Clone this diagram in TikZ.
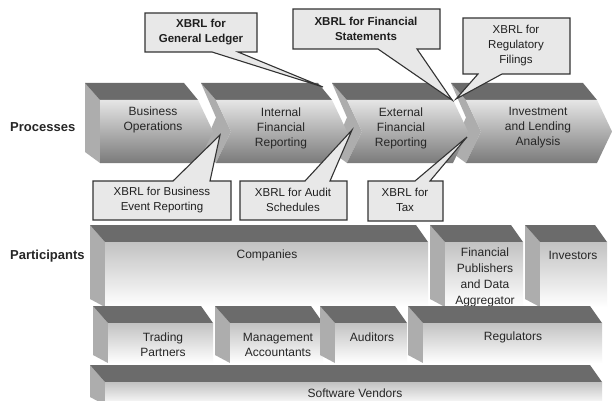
\documentclass[tikz,border=0pt]{standalone}
\usepackage{fontspec}
\setmainfont{Liberation Sans}
\tikzset{
  topface/.style={fill=black!58},
  sideface/.style={fill=black!32},
  procfront/.style={top color=black!10, bottom color=black!52},
  partfront/.style={top color=black!24, bottom color=white},
  callout/.style={fill=black!9, draw=black!80, line width=1.1pt, line join=miter},
  lbl/.style={font=\fontsize{12}{15}\selectfont, align=center, text=black!85, inner sep=0pt},
  clbl/.style={font=\fontsize{11.5}{15}\selectfont, align=center, text=black!88, inner sep=0pt},
  cblbl/.style={font=\fontsize{11.5}{15}\selectfont\bfseries, align=center, text=black!88, inner sep=0pt},
  headlbl/.style={font=\fontsize{13}{15}\selectfont\bfseries, anchor=west, text=black!85, inner sep=0pt}
}
\newcommand\procside[1]{\fill[sideface] ({#1-15},83) -- (#1,100) -- ({#1+15},131.5) -- (#1,163) -- ({#1-15},152) -- (#1,117.5) -- cycle;}
\newcommand\procsideplain[1]{\fill[sideface] ({#1-15},83) -- (#1,100) -- (#1,163) -- ({#1-15},152) -- cycle;}
\newcommand\proctop[2]{\fill[topface] (#1,100) -- (#2,100) -- ({#2-14},83) -- ({#1-15},83) -- cycle;}
\newcommand\procfrontN[2]{\shade[procfront] (#1,100) -- (#2,100) -- ({#2+15},131.5) -- (#2,163) -- (#1,163) -- ({#1+15},131.5) -- cycle;}
\newcommand\procfrontP[2]{\shade[procfront] (#1,100) -- (#2,100) -- ({#2+15},131.5) -- (#2,163) -- (#1,163) -- cycle;}
\newcommand\partblock[4]{%
  \fill[sideface] (#1,#2) -- (#1,#4) -- ({#1-15},{#4-8}) -- ({#1-15},{#2-17}) -- cycle;
  \fill[topface] (#1,#2) -- (#3,#2) -- ({#3-12},{#2-17}) -- ({#1-15},{#2-17}) -- cycle;
  \shade[partfront] (#1,#2) rectangle (#3,#4);}
\begin{document}
\begin{tikzpicture}[x=1pt,y=-1pt]
\useasboundingbox[fill=white] (0,0) rectangle (613,401);

% ---- Processes (drawn right to left so tips overlap next notch)
\procside{466}\proctop{466}{597}\procfrontN{466}{597}
\procside{347}\proctop{347}{453}\procfrontN{347}{453}
\procside{216}\proctop{216}{332}\procfrontN{216}{332}
\procsideplain{100}\proctop{100}{198}\procfrontP{100}{198}

\node[lbl] (bo) at (153,120) {Business\\Operations};
\node[lbl] (ifr) at (281,128) {Internal\\Financial\\Reporting};
\node[lbl] (efr) at (401,128) {External\\Financial\\Reporting};
\node[lbl] (ila) at (538,128) {Investment\\and Lending\\Analysis};
\node[headlbl] (proc) at (10,127) {Processes};

% ---- Callouts above
\draw[callout] (145,13) -- (257,13) -- (257,52) -- (238,52) -- (323,87) -- (212,52) -- (145,52) -- cycle;
\node[cblbl] (gl) at (201,32) {XBRL for\\General Ledger};
\draw[callout] (293,9) -- (440,9) -- (440,49) -- (417,49) -- (452,100) -- (378,49) -- (293,49) -- cycle;
\node[cblbl] (fs) at (366,29) {XBRL for Financial\\Statements};
\draw[callout] (463,18) -- (570,18) -- (570,74) -- (502,74) -- (456,99) -- (478,74) -- (463,74) -- cycle;
\node[clbl] (rf) at (516,46) {XBRL for\\Regulatory\\Filings};

% ---- Callouts below
\draw[callout] (93,220) -- (93,181) -- (173,181) -- (220,135) -- (210,181) -- (231,181) -- (231,220) -- cycle;
\node[clbl] (be) at (162,200) {XBRL for Business\\Event Reporting};
\draw[callout] (240,220) -- (240,181) -- (305,181) -- (352,130) -- (330,181) -- (347,181) -- (347,220) -- cycle;
\node[clbl] (as) at (293,200) {XBRL for Audit\\Schedules};
\draw[callout] (368,221) -- (368,181) -- (415,181) -- (467,137) -- (430,181) -- (443,181) -- (443,221) -- cycle;
\node[clbl] (tx) at (405,200) {XBRL for\\Tax};

% ---- Participants
\partblock{105}{242}{428}{307}
\partblock{445}{242}{523}{307}
\partblock{540}{242}{607}{307}
\node[lbl] (co) at (267,255) {Companies};
\node[lbl, font=\fontsize{12}{16}\selectfont] (fp) at (485,277) {Financial\\Publishers\\and Data\\Aggregator};
\node[lbl] (inv) at (573,255) {Investors};

\partblock{108}{323}{213}{363}
\partblock{230}{323}{323}{363}
\partblock{335}{323}{407}{363}
\partblock{423}{323}{602}{363}
\node[lbl] (tp) at (163,345) {Trading\\Partners};
\node[lbl] (ma) at (278,345) {Management\\Accountants};
\node[lbl] (au) at (372,337) {Auditors};
\node[lbl] (re) at (513,337) {Regulators};

\partblock{105}{382}{602}{405}
\node[lbl] (sv) at (355,393) {Software Vendors};
\node[headlbl] (part) at (10,256) {Participants};
\end{tikzpicture}
\end{document}
